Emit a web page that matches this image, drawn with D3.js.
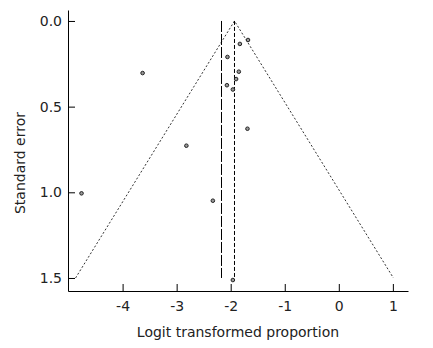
<!DOCTYPE html>
<html><head><meta charset="utf-8">
<script src="https://cdn.jsdelivr.net/npm/d3@7"></script>
<style>body{margin:0;background:#fff}svg{display:block}</style>
</head><body>
<svg id="c" width="433" height="348"></svg>
<script>
// Data
const logitProportion = [-1.68, -1.83, -2.06, -1.85, -1.90, -2.07, -1.96, -1.69, -3.63, -2.82, -4.76, -2.33, -1.96];
const standardError   = [0.111, 0.134, 0.21, 0.296, 0.339, 0.375, 0.40, 0.629, 0.304, 0.728, 1.006, 1.049, 1.512];
const xTicks = [-4, -3, -2, -1, 0, 1];
const yTicks = [0.0, 0.5, 1.0, 1.5];
const pooledEstimate = -1.93;   // fixed-effect estimate (short dash)
const randomEstimate = -2.17;   // alternative estimate (long dash)
const funnelMaxSE = 1.5;
const z = 1.96;

const svg = d3.select("#c");
const font = "Tahoma, 'DejaVu Sans', sans-serif";
const fs = 14;
const x = d3.scaleLinear().domain([-5.01, 1.28]).range([68, 408]);
const y = d3.scaleLinear().domain([-0.064, 1.576]).range([10, 291]);

// axes
const xAxis = d3.axisBottom(x).tickValues(xTicks).tickFormat(d3.format("d")).tickSizeInner(-7).tickSizeOuter(0).tickPadding(10);
const gx = svg.append("g").attr("transform", "translate(0,291)").call(xAxis);
const yAxis = d3.axisLeft(y).tickValues(yTicks).tickFormat(d3.format(".1f")).tickSizeInner(-7).tickSizeOuter(0).tickPadding(6);
const gy = svg.append("g").attr("transform", "translate(68,0)").call(yAxis);
[gx, gy].forEach(g => {
  g.selectAll("path,line").attr("stroke", "#000").attr("stroke-width", 1);
  g.selectAll("text").attr("font-family", font).attr("font-size", fs).attr("fill", "#222");
});
gx.selectAll("text").text(d => d < 0 ? "-" + Math.abs(d) : d);

// funnel
const funnel = [[pooledEstimate - z * funnelMaxSE, funnelMaxSE], [pooledEstimate, 0], [pooledEstimate + z * funnelMaxSE, funnelMaxSE]];
svg.append("path")
  .attr("d", d3.line().x(d => x(d[0])).y(d => y(d[1]))(funnel))
  .attr("fill", "none").attr("stroke", "#333").attr("stroke-width", 1).attr("stroke-dasharray", "2,2");

// vertical lines
svg.append("line").attr("x1", x(pooledEstimate)).attr("x2", x(pooledEstimate))
  .attr("y1", y(0)).attr("y2", y(funnelMaxSE))
  .attr("stroke", "#000").attr("stroke-width", 1).attr("stroke-dasharray", "4,2");
svg.append("line").attr("x1", x(randomEstimate)).attr("x2", x(randomEstimate))
  .attr("y1", y(0)).attr("y2", y(funnelMaxSE))
  .attr("stroke", "#000").attr("stroke-width", 1).attr("stroke-dasharray", "11,2");

// points
svg.append("g").selectAll("circle").data(logitProportion.map((v, i) => [v, standardError[i]]))
  .join("circle")
  .attr("cx", d => x(d[0])).attr("cy", d => y(d[1])).attr("r", 1.8)
  .attr("fill", "#999").attr("stroke", "#222").attr("stroke-width", 1);

// labels
svg.append("text").attr("x", 238).attr("y", 337).attr("text-anchor", "middle")
  .attr("font-family", font).attr("font-size", fs).attr("fill", "#222").text("Logit transformed proportion");
svg.append("text").attr("transform", "translate(25,163) rotate(-90)").attr("text-anchor", "middle")
  .attr("font-family", font).attr("font-size", fs).attr("fill", "#222").text("Standard error");
</script>
</body></html>
